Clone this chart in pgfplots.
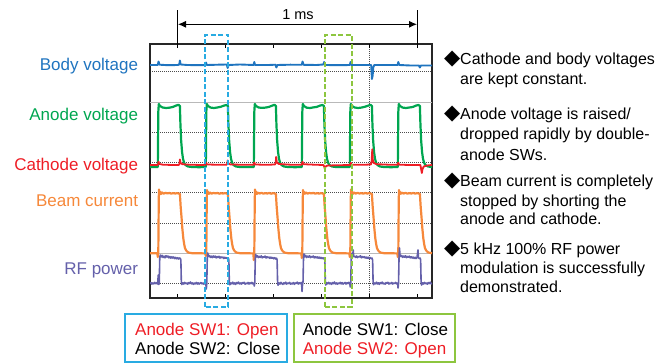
\documentclass[border=0pt]{standalone}
\usepackage{pgfplots}
\pgfplotsset{compat=1.18}
\usepackage{fontspec}
\setmainfont{Liberation Sans}
\newfontfamily\dejavu{DejaVu Sans}
\usetikzlibrary{arrows.meta}
\definecolor{cBody}{HTML}{1F74BF}
\definecolor{cAnode}{HTML}{00A650}
\definecolor{cCath}{HTML}{EE1D25}
\definecolor{cBeam}{HTML}{F6883A}
\definecolor{cRF}{HTML}{6460AA}
\definecolor{cBoxB}{HTML}{29ABE2}
\definecolor{cBoxG}{HTML}{8DC63F}
\newcommand{\fsL}{\fontsize{17bp}{20bp}\selectfont}
\newcommand{\fsR}{\fontsize{16bp}{20bp}\selectfont}
\newcommand{\fsB}{\fontsize{17bp}{20bp}\selectfont}
\newcommand{\fsA}{\fontsize{14.5bp}{18bp}\selectfont}
\newcommand{\fsD}{\fontsize{21bp}{24bp}\selectfont}
\begin{document}
\begin{tikzpicture}
\useasboundingbox (0,0) rectangle (667bp,363bp);
\begin{axis}[
  at={(150bp,65bp)}, anchor=south west,
  width=282bp, height=254bp, scale only axis,
  xmin=-114.6, xmax=1060.4, ymin=0, ymax=254,
  axis line style={line width=1.9bp, black!85},
  xtick={0,200,400,600,800,1000}, xticklabels={},
  tick align=inside, major tick length=4bp,
  xtick style={black, line width=1bp},
  ytick={14,44.5,74.5,105,135,165,195,226}, yticklabels={},
  ytick style={draw=none},
  ymajorgrids,
  major grid style={black!70, line width=1bp, dash pattern=on 1bp off 1bp},
  extra x ticks={800}, extra x tick labels={},
  extra x tick style={grid=major},
  clip=true,
]
% reference lines (solid gray grid lines)
\addplot[gray!55, line width=1bp] coordinates {(-114.6,44.5) (1060.4,44.5)};
\addplot[gray!55, line width=1bp] coordinates {(-114.6,195) (1060.4,195)};

% Body voltage
\addplot[cBody, line width=1.9bp, line join=round] coordinates {
(-114.6,233) (-86,233) (-82,233.2) (-79,236.5) (-75,233.3) (-40,232.8) (0,233) (7,233.3) (10,237.5) (13,233.5)
(40,233) (90,232.8) (116,233) (119,235.5) (122,233) (170,233.3) (205,233.5) (209,230) (213,233)
(260,233.5) (317,233) (320,236) (323,233) (380,233) (408,233.3) (412,230.5) (416,233)
(470,233.3) (518,233.2) (521,236.5) (525,233.2) (580,233) (608,233.5) (611,236) (615,233)
(680,232.8) (718,233) (721,236) (725,233) (790,233) (807,233) (810,219) (813,222) (816,231) (820,233)
(870,233) (917,233) (920,236) (924,233) (970,232.5) (1006,232.5) (1010,230.5) (1014,232.5) (1060.4,232.5)
};

% Anode voltage
\addplot[cAnode, line width=2.2bp, line join=round] coordinates {
(-114.6,131) (-82,131) (-80,186) (-78,194) (-73,192) (-62,190.5) (-48,190) (-34,190.3) (-20,191) (-5,192.5) (4,193.2) (10,192) (12,175) (15,158) (19,146) (23,139) (28,135) (34,132.8) (44,131.5) (60,131) (90,130.8) (118,131)
(120,186) (122,194) (127,192) (138,190.4) (152,190) (166,190.5) (180,191.2) (195,192.5) (204,193) (210,192) (212,175) (215,158) (219,146) (223,139) (228,135) (234,132.8) (244,131.5) (260,131) (290,130.9) (318,131)
(320,186) (322,194) (327,192) (338,190.5) (352,190.1) (366,190.4) (380,191) (395,192.4) (404,193.2) (410,192) (412,175) (415,158) (419,146) (423,139) (428,135) (434,132.8) (444,131.5) (460,131) (490,130.8) (518,131)
(520,186) (522,194) (527,192) (538,190.3) (552,190) (566,190.6) (580,191.1) (595,192.5) (604,193) (610,192) (612,175) (615,158) (619,146) (623,139) (628,135) (634,132.8) (644,131.5) (660,131) (690,130.9) (718,131)
(720,186) (722,194) (727,192) (738,190.5) (752,190) (766,190.4) (780,191.2) (795,192.4) (804,193.2) (810,192) (812,175) (815,158) (819,146) (823,139) (828,135) (834,132.8) (844,131.5) (860,131) (890,130.8) (918,131)
(920,186) (922,194) (927,192) (938,190.4) (952,190) (966,190.5) (980,191) (995,192.5) (1004,193) (1010,192) (1012,175) (1015,158) (1019,146) (1023,139) (1028,135) (1034,132.8) (1044,131.5) (1060.4,131)
};

% Cathode voltage
\addplot[cCath, line width=1.8bp, line join=round] coordinates {
(-114.6,133) (-84,133) (-81,133.5) (-79,136.3) (-76,134) (-60,133.3) (-20,133) (5,133) (8,134) (10,138.5) (13,135) (20,133.8)
(50,133.3) (100,133) (116,133.2) (119,135.5) (122,133.5) (160,133.3) (204,133.2) (207,134) (209,137.5) (212,134.5) (220,133.6)
(270,133.2) (317,133.2) (320,135.5) (323,133.5) (370,133.2) (406,133.5) (409,135) (411,141) (414,135.5) (422,134)
(470,133.3) (518,133.3) (521,136.3) (524,133.8) (570,133.3) (608,133) (611,131.5) (614,129) (617,131.5) (625,132.5)
(680,132.8) (719,133) (722,135.3) (725,133.3) (770,133.2) (806,133.5) (809,137) (811.5,148.7) (814,138) (818,135) (830,133.8)
(880,133.3) (917,133.3) (920,135.3) (923,133.3) (970,133) (1012,133) (1015,129) (1018,125) (1021,129) (1026,131.5) (1040,132.5) (1060.4,133)
};

% Beam current
\addplot[cBeam, line width=2.2bp, line join=round] coordinates {
(-114.6,44.7) (-90,44.8) (-84,44.6) (-82,41) (-80,46) (-78,100) (-77,108.5) (-75,103.5) (-72,106.2) (-69,104) (-64,105.5) (-58,104.3) (-50,105.2) (-42,104.6) (-34,105) (-26,104.4) (-18,104.9) (-10,104.5) (-2,104.8) (6,104.5) (10,104) (13,92) (17,80) (20,70) (24,60) (28,53.5) (31,50) (37,47.2) (45,45.5) (60,44.8) (90,44.7) (116,44.6)
(118,42) (120,46) (122,100) (123,108) (125,103.8) (128,106) (131,104.2) (136,105.4) (142,104.4) (150,105.1) (158,104.6) (166,105) (174,104.3) (182,104.8) (190,104.5) (198,104.9) (206,104.4) (210,104) (213,92) (217,80) (220,70) (224,60) (228,53.5) (231,50) (237,47.2) (245,45.5) (260,44.8) (290,44.7) (316,44.6)
(318,38) (320,46) (322,100) (323,108.5) (325,103.5) (328,106.3) (331,104.1) (336,105.3) (342,104.5) (350,105.1) (358,104.4) (366,104.9) (374,104.5) (382,105) (390,104.3) (398,104.8) (406,104.5) (410,104) (413,92) (417,80) (420,70) (424,60) (428,53.5) (431,50) (437,47.2) (445,45.5) (460,44.8) (490,44.7) (516,44.6)
(518,40) (520,46) (522,100) (523,108) (525,104) (528,106) (531,104.3) (536,105.4) (542,104.4) (550,105) (558,104.6) (566,105.1) (574,104.3) (582,104.9) (590,104.4) (598,104.8) (606,104.5) (610,104) (613,92) (617,80) (620,70) (624,60) (628,53.5) (631,50) (637,47.2) (645,45.5) (660,44.8) (690,44.7) (716,44.6)
(718,41) (720,46) (722,100) (723,108.5) (725,103.6) (728,106.1) (731,104.2) (736,105.5) (742,104.4) (750,105.2) (758,104.5) (766,104.9) (774,104.4) (782,105) (790,104.5) (798,104.8) (806,104.4) (810,104) (813,92) (817,80) (820,70) (824,60) (828,53.5) (831,50) (837,47.2) (845,45.5) (860,44.8) (890,44.7) (916,44.6)
(918,41) (920,46) (922,100) (923,108) (925,103.8) (928,106) (931,104.3) (936,105.3) (942,104.5) (950,105.1) (958,104.4) (966,104.9) (974,104.5) (982,105) (990,104.4) (998,104.8) (1006,104.5) (1010,104) (1013,92) (1017,80) (1020,70) (1024,60) (1028,53.5) (1031,50) (1037,47.2) (1045,45.5) (1060.4,44.8)
};

% RF power
\addplot[cRF, line width=1.6bp, line join=round] coordinates {
(-114.6,14.2) (-111,15.4) (-107,13.9) (-103,15) (-99,14.1) (-95,15.7) (-91,14.4) (-87,15.2) (-83,14) (-80,23) (-78,13.5) (-76,14.8)
(-74,40) (-72,43) (-68,41) (-64,42.6) (-60,40.5) (-56,41.8) (-52,40.2) (-48,42.3) (-44,41) (-40,42) (-36,40.1) (-32,41.5) (-28,39.8) (-24,41.2) (-20,40) (-16,41) (-12,39.4) (-8,40.6) (-4,39.2) (0,40.3) (4,39) (8,40.1) (12,39.5) (14,38)
(16,16) (18,13.5) (22,15.2) (26,14) (30,15.6) (34,14.3) (38,15) (42,13.8) (46,15.3) (50,14.5) (54,16) (58,14.2) (62,15.1) (66,13.7) (70,14.9) (74,14.1) (78,15.5) (82,14) (86,15.2) (90,13.9) (94,14.8) (98,15.4) (102,14.1) (106,15) (110,13.8) (114,15.3) (118,14.4)
(120,9) (122,14.5) (124,40) (126,45) (129,41.5) (133,42.4) (137,40.6) (141,41.8) (145,40.3) (149,42) (153,40.8) (157,41.9) (161,40.1) (165,41.4) (169,40.5) (173,41.7) (177,39.9) (181,41.1) (185,40.2) (189,40.9) (193,39.5) (197,40.7) (201,39.6) (205,40.4) (209,39.3) (212,39.8) (214,38)
(216,15.5) (218,13.2) (222,15) (226,14.2) (230,15.8) (234,14) (238,15.1) (242,13.6) (246,15.4) (250,14.5) (254,15.9) (258,14.1) (262,15) (266,13.9) (270,15.3) (274,14.6) (278,15.7) (282,13.8) (286,14.9) (290,14.2) (294,15.5) (298,14) (302,15.2) (306,14.3) (310,15.6) (314,14.1) (318,15)
(320,12) (322,15) (324,39) (326,43.5) (329,41) (333,42.3) (337,40.4) (341,41.6) (345,40.7) (349,42.1) (353,40.2) (357,41.3) (361,40.6) (365,41.9) (369,40) (373,41.2) (377,40.3) (381,41) (385,39.7) (389,40.8) (393,39.8) (397,40.5) (401,39.2) (405,40.3) (409,39) (413,39.8) (415,38)
(417,16) (419,12.8) (423,15.1) (427,14) (431,15.7) (435,14.4) (439,13.6) (443,15.2) (447,14.2) (451,15.8) (455,13.9) (459,15) (463,14.4) (467,15.6) (471,13.8) (475,14.9) (479,14.1) (483,15.4) (487,13.7) (491,15.1) (495,14.5) (499,15.9) (503,14) (507,15.2) (511,14.3) (515,15.5) (517,14.6)
(519,6.5) (521,14) (523,16) (525,40) (527,44) (530,41.2) (534,42.6) (538,40.5) (542,41.8) (546,40.9) (550,42.2) (554,40.3) (558,41.5) (562,40.8) (566,42) (570,40.1) (574,41.3) (578,40.2) (582,41.1) (586,39.8) (590,40.9) (594,39.6) (598,40.6) (602,39.4) (606,40.2) (610,39.3) (614,38)
(616,16) (618,13) (622,15.3) (626,14.1) (630,15.6) (634,14.2) (638,15) (642,13.7) (646,15.4) (650,14.4) (654,16) (658,14) (662,15.1) (666,13.8) (670,15) (674,14.3) (678,15.6) (682,14.1) (686,15.3) (690,13.9) (694,14.8) (698,15.5) (702,14) (706,15.2) (710,14.4) (714,15.7) (718,14.2)
(720,11) (722,14.8) (724,40) (727,44.5) (730,41) (732,48) (734,42) (738,41.5) (742,40.6) (746,42) (750,40.4) (754,41.6) (758,40.9) (762,42.2) (766,40.2) (770,41.4) (774,40.5) (778,41.3) (782,40) (786,40.9) (790,39.7) (794,40.8) (798,39.5) (802,40.5) (806,39.4) (810,40) (813,38)
(815,16) (817,13.3) (821,15) (825,14.2) (829,15.8) (833,14) (837,15.2) (841,13.7) (845,15.3) (849,14.5) (853,15.9) (857,14.1) (861,14.9) (865,13.8) (869,15.4) (873,14.6) (877,15.7) (881,13.9) (885,15) (889,14.3) (893,15.5) (897,14) (901,15.1) (905,14.4) (909,15.6) (913,14.2) (917,15)
(919,10) (921,15) (923,40) (925,50) (927,43) (930,41.5) (934,42.5) (938,40.6) (942,41.9) (946,40.8) (950,42.2) (954,40.3) (958,41.5) (962,40.7) (966,41.8) (970,40.1) (974,41.2) (978,40) (982,40.9) (986,39.6) (990,40.7) (994,39.5) (998,40.4) (1002,48) (1004,40.2) (1008,39.4) (1011,39.9) (1013,38)
(1015,16) (1017,13) (1021,15.2) (1025,14) (1029,15.6) (1033,14.3) (1037,15) (1041,13.8) (1045,15.4) (1049,14.5) (1053,15.8) (1057,14.1) (1060.4,15)
};
\end{axis}

% dashed highlight boxes
\draw[cBoxB, line width=2bp, dash pattern=on 5bp off 2.5bp] (205bp,56bp) rectangle (228.3bp,328bp);
\draw[cBoxG, line width=2bp, dash pattern=on 5bp off 2.5bp] (325bp,56bp) rectangle (351.5bp,328bp);

% 1 ms marker
\draw[black, line width=1bp] (177.5bp,316bp) -- (177.5bp,353bp);
\draw[black, line width=1bp] (417.5bp,316bp) -- (417.5bp,353bp);
\draw[black, line width=1bp, {Latex[length=8bp,width=7bp]}-{Latex[length=8bp,width=7bp]}] (178bp,338.7bp) -- (417bp,338.7bp);
\node[anchor=base, inner sep=0, font=\fsA] at (298bp,343.7bp) {1 ms};

% left labels
\node[anchor=mid east, inner sep=0, text=cBody, font=\fsL] at (138.3bp,295bp) {Body voltage};
\node[anchor=mid east, inner sep=0, text=cAnode, font=\fsL] at (138.3bp,245.6bp) {Anode voltage};
\node[anchor=mid east, inner sep=0, text=cCath, font=\fsL] at (138.3bp,195.6bp) {Cathode voltage};
\node[anchor=mid east, inner sep=0, text=cBeam, font=\fsL] at (138.3bp,159.6bp) {Beam current};
\node[anchor=mid east, inner sep=0, text=cRF, font=\fsL] at (138.3bp,91.6bp) {RF power};

% right notes
\foreach \yy in {301.5,246.5,179,111}{
  \node[anchor=mid east, inner sep=0, font=\fsD\dejavu] at (460.5bp,\yy bp) {◆};
}
\node[anchor=mid west, inner sep=0, font=\fsR] at (460bp,301.5bp) {Cathode and body voltages};
\node[anchor=mid west, inner sep=0, font=\fsR] at (460bp,281bp) {are kept constant.};
\node[anchor=mid west, inner sep=0, font=\fsR] at (460bp,246.5bp) {Anode voltage is raised/};
\node[anchor=mid west, inner sep=0, font=\fsR] at (460bp,226bp) {dropped rapidly by double-};
\node[anchor=mid west, inner sep=0, font=\fsR] at (460bp,205.5bp) {anode SWs.};
\node[anchor=mid west, inner sep=0, font=\fsR] at (460bp,179bp) {Beam current is completely};
\node[anchor=mid west, inner sep=0, font=\fsR] at (460bp,159.5bp) {stopped by shorting the};
\node[anchor=mid west, inner sep=0, font=\fsR] at (460bp,141bp) {anode and cathode.};
\node[anchor=mid west, inner sep=0, font=\fsR] at (460bp,111bp) {5 kHz 100\% RF power};
\node[anchor=mid west, inner sep=0, font=\fsR] at (460bp,92bp) {modulation is successfully};
\node[anchor=mid west, inner sep=0, font=\fsR] at (460bp,73bp) {demonstrated.};

% bottom boxes
\draw[cBoxB, line width=1.8bp] (125bp,1.3bp) rectangle (286.7bp,49bp);
\draw[cBoxG, line width=1.8bp] (294.3bp,1.3bp) rectangle (455bp,49bp);
\node[anchor=base west, inner sep=0, font=\fsB, text=cCath] at (135bp,28bp) {Anode SW1: Open};
\node[anchor=base west, inner sep=0, font=\fsB, text=black] at (135bp,9bp) {Anode SW2: Close};
\node[anchor=base west, inner sep=0, font=\fsB, text=black] at (302.7bp,28bp) {Anode SW1: Close};
\node[anchor=base west, inner sep=0, font=\fsB, text=cCath] at (302.7bp,9bp) {Anode SW2: Open};
\end{tikzpicture}
\end{document}
